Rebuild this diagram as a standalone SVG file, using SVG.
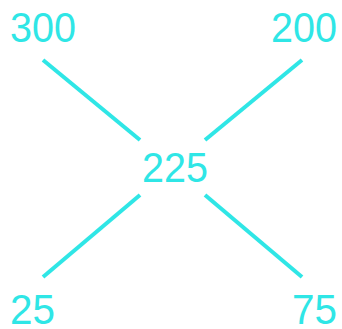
<svg xmlns="http://www.w3.org/2000/svg" width="342" height="329" viewBox="0 0 342 329">
<style>
.t{font-family:"Liberation Sans",Arial,sans-serif;font-size:42px;fill:#2fe6e6}
.e{stroke:#2fe6e6;stroke-width:4;stroke-linecap:butt;fill:none}
</style>
<rect width="342" height="329" fill="#ffffff"/>
<g id="connectors">
<line class="e" x1="43" y1="60" x2="140" y2="140"/>
<line class="e" x1="302" y1="60" x2="205" y2="140"/>
<line class="e" x1="140" y1="195" x2="43" y2="277"/>
<line class="e" x1="205" y1="195" x2="302" y2="277"/>
</g>
<g id="n300"><text class="t" x="10" y="42" textLength="66" lengthAdjust="spacingAndGlyphs">300</text></g>
<g id="n200"><text class="t" x="271" y="42" textLength="66" lengthAdjust="spacingAndGlyphs">200</text></g>
<g id="n225"><text class="t" x="142" y="182" textLength="66" lengthAdjust="spacingAndGlyphs">225</text></g>
<g id="n25"><text class="t" x="10" y="324" textLength="45" lengthAdjust="spacingAndGlyphs">25</text></g>
<g id="n75"><text class="t" x="292" y="324" textLength="45" lengthAdjust="spacingAndGlyphs">75</text></g>
</svg>
